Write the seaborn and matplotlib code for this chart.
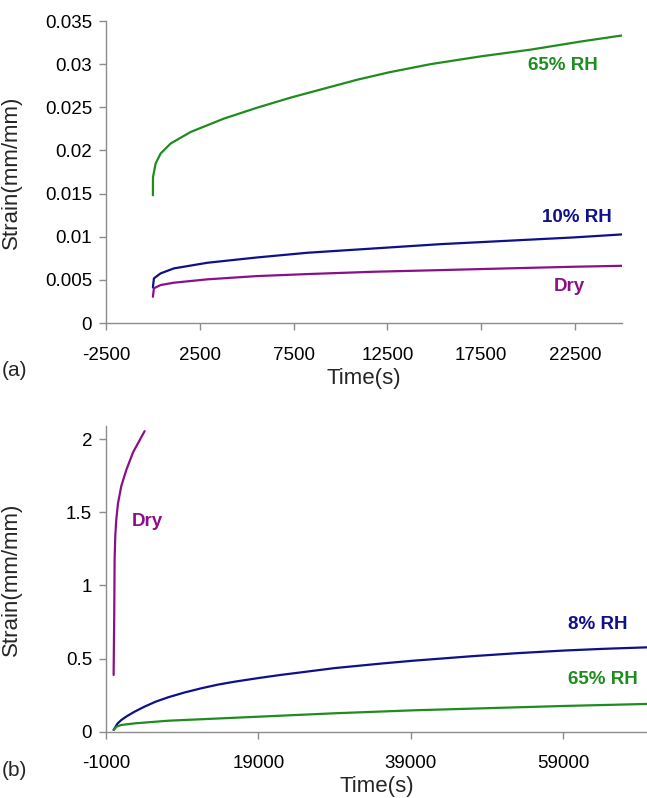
import numpy as np
import pandas as pd
import matplotlib
matplotlib.use("Agg")
import matplotlib.pyplot as plt
import seaborn as sns
from matplotlib.ticker import FuncFormatter

sns.set_style("ticks")
plt.rcParams['font.family'] = ['Liberation Sans', 'DejaVu Sans']
plt.rcParams['axes.unicode_minus'] = False

# ---------------- Panel (a) data ----------------
a_rh65_time = [0, 5, 144, 410, 944, 2010, 3785, 5565, 7340, 9115, 10900, 12580, 14800, 17470, 20130, 22800, 25020]
a_rh65 = [0.0148, 0.0169, 0.01848, 0.01964, 0.0208, 0.02214, 0.02369, 0.02496, 0.02612, 0.02716,
          0.0282, 0.02905, 0.03, 0.0309, 0.03168, 0.03262, 0.03333]
a_rh10_time = [0, 53, 410, 1120, 2900, 5565, 8230, 11780, 15340, 18900, 22450, 25020]
a_rh10 = [0.00413, 0.00517, 0.00575, 0.00633, 0.00698, 0.0076, 0.00814, 0.00864, 0.00914, 0.00953,
          0.00992, 0.01027]
a_dry_time = [0, 53, 410, 1120, 2900, 5565, 8230, 11780, 15340, 18900, 22450, 25020]
a_dry = [0.00304, 0.00402, 0.0044, 0.00467, 0.00506, 0.00544, 0.00567, 0.00594, 0.00613, 0.00633,
         0.00652, 0.00663]
a_xticks = [-2500, 2500, 7500, 12500, 17500, 22500]
a_yticks = [0, 0.005, 0.01, 0.015, 0.02, 0.025, 0.03, 0.035]

# ---------------- Panel (b) data ----------------
b_dry_time = [0, 40, 80, 130, 220, 350, 570, 1010, 1670, 2550, 4070]
b_dry = [0.388, 0.6, 0.79, 1.18, 1.34, 1.45, 1.56, 1.68, 1.79, 1.91, 2.055]
b_rh8_time = [0, 500, 1010, 1800, 2760, 4000, 5500, 7140, 9300, 11520, 13700, 15890, 19170, 21900,
              24650, 29020, 35150, 39230, 43000, 46970, 53000, 59150, 64500, 70180]
b_rh8 = [0.012, 0.055, 0.08, 0.108, 0.137, 0.17, 0.205, 0.235, 0.268, 0.297, 0.322, 0.342, 0.368, 0.388,
         0.406, 0.435, 0.466, 0.485, 0.50, 0.516, 0.537, 0.555, 0.567, 0.577]
b_rh65_time = [0, 400, 1010, 2760, 7140, 19170, 29020, 35150, 39230, 59150, 70180]
b_rh65 = [0.012, 0.035, 0.046, 0.057, 0.075, 0.103, 0.126, 0.138, 0.146, 0.176, 0.19]
b_xticks = [-1000, 19000, 39000, 59000]
b_yticks = [0, 0.5, 1, 1.5, 2]

GREEN = "#1f8c1f"
BLUE = "#10108a"
PURPLE = "#8a1088"
SPINE = "#8c8c8c"

df_a = pd.concat([
    pd.DataFrame({"t": a_rh65_time, "s": a_rh65, "c": "65% RH"}),
    pd.DataFrame({"t": a_rh10_time, "s": a_rh10, "c": "10% RH"}),
    pd.DataFrame({"t": a_dry_time, "s": a_dry, "c": "Dry"}),
])
df_b = pd.concat([
    pd.DataFrame({"t": b_dry_time, "s": b_dry, "c": "Dry"}),
    pd.DataFrame({"t": b_rh8_time, "s": b_rh8, "c": "8% RH"}),
    pd.DataFrame({"t": b_rh65_time, "s": b_rh65, "c": "65% RH"}),
])

fig = plt.figure(figsize=(6.47, 7.98), dpi=100)
ax1 = fig.add_axes([106/647, 1-323/798, (622-106)/647, (323-21)/798])
ax2 = fig.add_axes([106/647, 1-731.7/798, (647-106)/647, (731.7-426)/798])

sns.lineplot(data=df_a, x="t", y="s", hue="c", sort=False, estimator=None,
             palette={"65% RH": GREEN, "10% RH": BLUE, "Dry": PURPLE},
             linewidth=1.6, legend=False, ax=ax1)
sns.lineplot(data=df_b, x="t", y="s", hue="c", sort=False, estimator=None,
             palette={"65% RH": GREEN, "8% RH": BLUE, "Dry": PURPLE},
             linewidth=1.6, legend=False, ax=ax2)

def fmt(v, pos):
    return "%g" % v

for ax in (ax1, ax2):
    sns.despine(ax=ax)
    for sp in ("left", "bottom"):
        ax.spines[sp].set_color(SPINE)
        ax.spines[sp].set_linewidth(1.0)
    ax.tick_params(axis="both", direction="out", length=5, width=1.0, color=SPINE,
                   labelsize=13.5, labelcolor="black", pad=5)
    ax.tick_params(axis="x", pad=12)
    ax.yaxis.set_major_formatter(FuncFormatter(fmt))
    ax.set_ylabel("Strain(mm/mm)", fontsize=16)
    ax.set_xlabel("Time(s)", fontsize=16, labelpad=3)

ax1.yaxis.set_label_coords((22-106)/516, 0.5)
ax2.yaxis.set_label_coords((22-106)/541, 0.5)

ax1.set_xlim(-2500, 25000)
ax1.set_ylim(0, 0.035)
ax1.set_xticks(a_xticks)
ax1.set_yticks(a_yticks)

ax2.set_xlim(-1000, 70000)
ax2.set_ylim(0, 2.09)
ax2.set_xticks(b_xticks)
ax2.set_yticks(b_yticks)

# series labels
ax1.text(21860, 0.0298, "65% RH", color=GREEN, fontsize=13.5, fontweight="bold", ha="center", va="center")
ax1.text(22600, 0.01227, "10% RH", color=BLUE, fontsize=13.5, fontweight="bold", ha="center", va="center")
ax1.text(22180, 0.00428, "Dry", color=PURPLE, fontsize=13.5, fontweight="bold", ha="center", va="center")

ax2.text(4384, 1.436, "Dry", color=PURPLE, fontsize=13.5, fontweight="bold", ha="center", va="center")
ax2.text(63480, 0.730, "8% RH", color=BLUE, fontsize=13.5, fontweight="bold", ha="center", va="center")
ax2.text(64180, 0.354, "65% RH", color=GREEN, fontsize=13.5, fontweight="bold", ha="center", va="center")

fig.text(2/647, 1-371/798, "(a)", fontsize=15, ha="left", va="center")
fig.text(2/647, 1-770/798, "(b)", fontsize=15, ha="left", va="center")

fig.savefig("out.png", dpi=100)
